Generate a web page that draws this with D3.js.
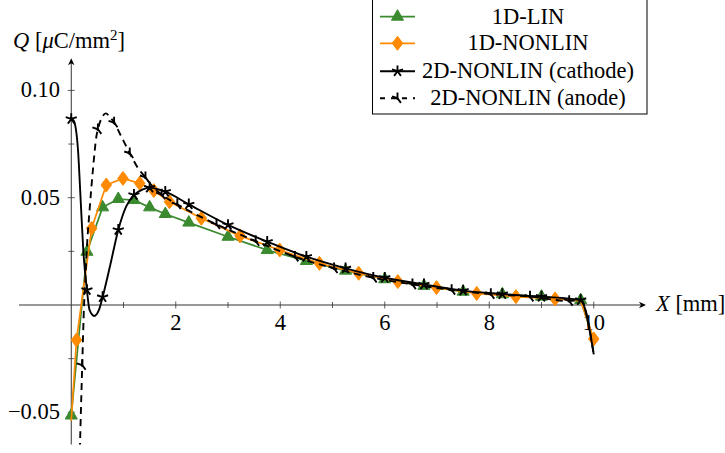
<!DOCTYPE html>
<html>
<head>
<meta charset="utf-8">
<script src="https://cdn.jsdelivr.net/npm/d3@7"></script>
<style>
  body { margin: 0; background: #fff; }
  svg { display: block; }
</style>
</head>
<body>
<svg id="chart" width="725" height="453"></svg>
<script>
// ---- data: surface charge Q [µC/mm²] along X [mm] ----
const seriesNames = ["1D-LIN", "1D-NONLIN", "2D-NONLIN (cathode)", "2D-NONLIN (anode)"];

const linX = [0, 0.3, 0.6, 0.9, 1.2, 1.5, 1.8, 2.25, 3.0, 3.75, 4.5, 5.25, 6.0, 6.75, 7.5, 8.25, 9.0, 9.75, 10.0];
const linY = [-0.0515, 0.0248, 0.0455, 0.0494, 0.0489, 0.0455, 0.0424, 0.0384, 0.0318, 0.0256, 0.0205, 0.0160, 0.0120, 0.0089, 0.0062, 0.0050, 0.0039, 0.0023, -0.0165];
const linMarks = d3.range(linX.length - 1);

const nonlinX = [0, 0.1, 0.39, 0.67, 0.99, 1.31, 1.58, 1.88, 2.49, 3.23, 3.99, 4.75, 5.5, 6.25, 6.99, 7.76, 8.51, 9.26, 9.75, 10.0];
const nonlinY = [-0.054, -0.0163, 0.0357, 0.0559, 0.0590, 0.0567, 0.0533, 0.0481, 0.0404, 0.0322, 0.0256, 0.0194, 0.0148, 0.0109, 0.0081, 0.0054, 0.0039, 0.0028, 0.0020, -0.0158];
const nonlinMarks = [1, 2, 3, 4, 5, 6, 7, 8, 9, 10, 11, 12, 13, 14, 15, 16, 17, 19];

const cathodeX = [0, 0.03, 0.067, 0.13, 0.18, 0.23, 0.3, 0.35, 0.44, 0.53, 0.6, 0.74, 0.9, 1.05, 1.2, 1.37, 1.5, 1.8, 2.25, 3.0, 3.75, 4.5, 5.25, 6.0, 6.75, 7.5, 8.25, 9.0, 9.75, 10.0];
const cathodeY = [0.0867, 0.0864, 0.0847, 0.0720, 0.0490, 0.0256, 0.0070, -0.0023, -0.0051, -0.0023, 0.0037, 0.0179, 0.0350, 0.0458, 0.0513, 0.0539, 0.0547, 0.0528, 0.0469, 0.0373, 0.0295, 0.0225, 0.0171, 0.0127, 0.0096, 0.0067, 0.0051, 0.0039, 0.0023, -0.0230];
const cathodeMarks = [0, 6, 10, 12, 14, 16, 17, 18, 19, 20, 21, 22, 23, 24, 25, 26, 27, 28];

const anodeX = [0.14, 0.21, 0.245, 0.27, 0.30, 0.35, 0.42, 0.48, 0.51, 0.58, 0.66, 0.74, 0.82, 0.96, 1.12, 1.28, 1.42, 1.56, 1.73, 2.03, 2.78, 3.53, 4.28, 5.03, 5.78, 6.53, 7.28, 8.03, 8.78, 9.53, 9.75, 10.0];
const anodeY = [-0.090, -0.028, 0.0, 0.0117, 0.027, 0.044, 0.0644, 0.0784, 0.0819, 0.0870, 0.0893, 0.0877, 0.0850, 0.0784, 0.0707, 0.0637, 0.0595, 0.0551, 0.0515, 0.0469, 0.0376, 0.0298, 0.0225, 0.0171, 0.0127, 0.0096, 0.0070, 0.0051, 0.0039, 0.0019, 0.0023, -0.0230];
const anodeMarks = [1, 8, 12, 14, 16, 18, 19, 20, 21, 22, 23, 24, 25, 26, 27, 28, 29];

const xMajorTicks = [2, 4, 6, 8, 10];
const xMinorTicks = [1, 3, 5, 7, 9];
const yMajorTicks = [-0.05, 0.05, 0.10];
const yMinorTicks = [-0.025, 0.025, 0.075];
const yTickLabels = ["\u22120.05", "0.05", "0.10"];

// ---- layout ----
const svg = d3.select("#chart");
const x = d3.scaleLinear().domain([-1, 11]).range([19, 646]);
const y = d3.scaleLinear().domain([-0.065, 0.115]).range([444.5, 58.2]);
const axisColor = "#333";
const FONT = '"Liberation Serif"';
const FONT_SIZE = "22.5px";

const GREEN = "#3b8a30", ORANGE = "#ff8a00", BLACK = "#000";
const DASH = [7, 5];

const series = [
  { name: seriesNames[0], xs: linX, ys: linY, marks: linMarks, color: GREEN, width: 1.7, curve: d3.curveLinear, mark: "triangle" },
  { name: seriesNames[1], xs: nonlinX, ys: nonlinY, marks: nonlinMarks, color: ORANGE, width: 1.7, curve: d3.curveLinear, mark: "diamond" },
  { name: seriesNames[2], xs: cathodeX, ys: cathodeY, marks: cathodeMarks, color: BLACK, width: 1.9, curve: d3.curveMonotoneX, mark: "star" },
  { name: seriesNames[3], xs: anodeX, ys: anodeY, marks: anodeMarks, color: BLACK, width: 1.9, curve: d3.curveMonotoneX, mark: "star", dash: DASH }
];

function label(g) {
  return g.append("text").style("font-family", FONT).style("font-size", FONT_SIZE).attr("fill", "#000");
}

// ---- axes ----
const axes = svg.append("g");
axes.append("line").attr("x1", x(-1)).attr("x2", x(11) - 4).attr("y1", y(0)).attr("y2", y(0))
  .attr("stroke", axisColor).attr("stroke-width", 1);
axes.append("line").attr("x1", x(0)).attr("x2", x(0)).attr("y1", y(-0.065)).attr("y2", y(0.115) + 4)
  .attr("stroke", axisColor).attr("stroke-width", 1);

// arrow heads
function arrowHead(tx, ty, angle) {
  const p = d3.path();
  const L = 7, Wd = 3.2, n = 2;
  const pts = [[0, 0], [-L, -Wd], [-L + n, 0], [-L, Wd]];
  const c = Math.cos(angle), s = Math.sin(angle);
  pts.forEach(([a, b], i) => {
    const px = tx + a * c - b * s, py = ty + a * s + b * c;
    if (i === 0) p.moveTo(px, py); else p.lineTo(px, py);
  });
  p.closePath();
  axes.append("path").attr("d", p.toString()).attr("fill", "#000");
}
arrowHead(x(11), y(0), 0);
arrowHead(x(0), y(0.115), -Math.PI / 2);

// ticks
xMajorTicks.forEach(t => axes.append("line").attr("x1", x(t)).attr("x2", x(t))
  .attr("y1", y(0) - 3.5).attr("y2", y(0) + 3.5).attr("stroke", axisColor).attr("stroke-width", 0.8));
xMinorTicks.forEach(t => axes.append("line").attr("x1", x(t)).attr("x2", x(t))
  .attr("y1", y(0) - 3).attr("y2", y(0) + 3).attr("stroke", axisColor).attr("stroke-width", 0.8));
yMajorTicks.forEach(t => axes.append("line").attr("x1", x(0) - 3.5).attr("x2", x(0) + 3.5)
  .attr("y1", y(t)).attr("y2", y(t)).attr("stroke", axisColor).attr("stroke-width", 0.8));
yMinorTicks.forEach(t => axes.append("line").attr("x1", x(0) - 3).attr("x2", x(0) + 3)
  .attr("y1", y(t)).attr("y2", y(t)).attr("stroke", axisColor).attr("stroke-width", 0.8));

// tick labels
xMajorTicks.forEach(t => label(axes).attr("x", x(t)).attr("y", 330)
  .attr("text-anchor", "middle").text(d3.format("d")(t)));
yMajorTicks.forEach((t, i) => label(axes).attr("x", 60).attr("y", y(t) + 7)
  .attr("text-anchor", "end").text(yTickLabels[i]));

// axis titles
const yl = label(axes).attr("x", 13).attr("y", 48);
yl.append("tspan").style("font-style", "italic").text("Q");
yl.append("tspan").text(" [");
yl.append("tspan").style("font-style", "italic").text("\u03BC");
yl.append("tspan").text("C/mm");
yl.append("tspan").style("font-size", "15px").attr("dy", -8).text("2");
yl.append("tspan").attr("dy", 8).text("]");

const xl = label(axes).attr("x", 656).attr("y", 311);
xl.append("tspan").style("font-style", "italic").text("X");
xl.append("tspan").text(" [mm]");

// ---- marks ----
function starPath(r, dash) {
  // five spokes from the centre; when dashed, the pattern runs on across spokes
  const angles = [90, 18, -54, -126, 162].map(a => a * Math.PI / 180);
  const p = d3.path();
  if (!dash) {
    angles.forEach(a => { p.moveTo(0, 0); p.lineTo(r * Math.cos(a), -r * Math.sin(a)); });
    return p.toString();
  }
  const period = dash[0] + dash[1];
  let s0 = 0;
  angles.forEach(a => {
    const ux = Math.cos(a), uy = -Math.sin(a);
    let t = Math.floor(s0 / period) * period;
    while (t < s0 + r) {
      const a0 = Math.max(t, s0), a1 = Math.min(t + dash[0], s0 + r);
      if (a1 > a0) {
        p.moveTo((a0 - s0) * ux, (a0 - s0) * uy);
        p.lineTo((a1 - s0) * ux, (a1 - s0) * uy);
      }
      t += period;
    }
    s0 += r;
  });
  return p.toString();
}

function drawMarker(g, kind, cx, cy, color, dash) {
  if (kind === "triangle") {
    const r = 7;
    const pts = [90, 210, 330].map(a => [cx + r * Math.cos(a * Math.PI / 180), cy - r * Math.sin(a * Math.PI / 180)]);
    g.append("path").attr("d", "M" + pts.map(p => p.join(",")).join("L") + "Z")
      .attr("fill", color).attr("stroke", color).attr("stroke-width", 1);
  } else if (kind === "diamond") {
    const r = 7;
    const pts = [[cx, cy - r], [cx + 0.75 * r, cy], [cx, cy + r], [cx - 0.75 * r, cy]];
    g.append("path").attr("d", "M" + pts.map(p => p.join(",")).join("L") + "Z")
      .attr("fill", color).attr("stroke", color).attr("stroke-width", 1);
  } else {
    g.append("path").attr("d", starPath(5.8, dash)).attr("transform", `translate(${cx},${cy})`)
      .attr("fill", "none").attr("stroke", color).attr("stroke-width", 1.9).attr("stroke-linecap", "butt");
  }
}

svg.append("defs").append("clipPath").attr("id", "plotArea")
  .append("rect").attr("x", x(-1)).attr("y", y(0.115)).attr("width", x(11) - x(-1)).attr("height", y(-0.065) - y(0.115));

const plot = svg.append("g").attr("clip-path", "url(#plotArea)");
series.forEach(s => {
  const pts = s.xs.map((v, i) => [v, s.ys[i]]);
  const line = d3.line().x(d => x(d[0])).y(d => y(d[1])).curve(s.curve);
  plot.append("path").datum(pts).attr("d", line)
    .attr("fill", "none").attr("stroke", s.color).attr("stroke-width", s.width)
    .attr("stroke-linejoin", "round")
    .attr("stroke-dasharray", s.dash ? s.dash.join(",") : null);
  const mg = plot.append("g");
  s.marks.forEach(i => drawMarker(mg, s.mark, x(s.xs[i]), y(s.ys[i]), s.color, s.dash));
});

// ---- legend ----
const legend = svg.append("g");
legend.append("rect").attr("x", 372.5).attr("y", -1).attr("width", 274.5).attr("height", 115)
  .attr("fill", "#fff").attr("stroke", "#000").attr("stroke-width", 1);
const rowY = [16.7, 43.3, 71.2, 98.2];
series.forEach((s, i) => {
  const cy = rowY[i];
  legend.append("line").attr("x1", 380).attr("x2", 415).attr("y1", cy).attr("y2", cy)
    .attr("stroke", s.color).attr("stroke-width", s.width)
    .attr("stroke-dasharray", s.dash ? "5,6" : null);
  drawMarker(legend, s.mark, 397.5, cy, s.color, s.dash);
  label(legend).attr("x", 528).attr("y", cy + 7).attr("text-anchor", "middle").text(s.name);
});
</script>
</body>
</html>
